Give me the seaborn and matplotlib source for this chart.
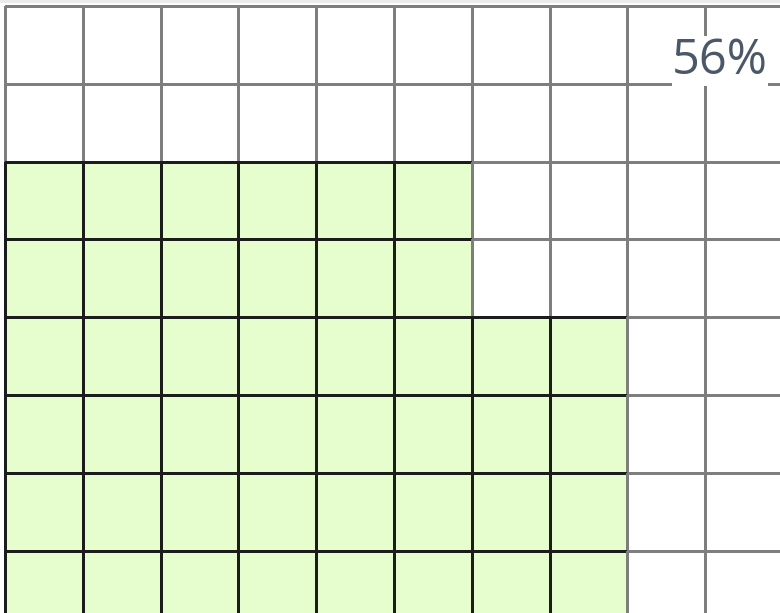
import numpy as np
import matplotlib
matplotlib.use("Agg")
import matplotlib.pyplot as plt
import seaborn as sns
from matplotlib.colors import ListedColormap, to_rgba

# ---- data ----
n_rows = 10
n_cols = 10
column_heights = [8, 8, 8, 8, 8, 8, 6, 6, 0, 0]   # filled cells per column, counted from the bottom
percent_label = "56%"

# ---- build grid ----
row_idx = np.arange(n_rows)[:, None]
heights = np.array(column_heights)[None, :]
filled = row_idx >= (n_rows - heights)
values = filled.astype(float)

sns.set_theme(style="white")
plt.rcParams['font.family'] = ['Open Sans', 'DejaVu Sans']

dpi = 100
fig = plt.figure(figsize=(7.80, 6.13), dpi=dpi)
ax = fig.add_axes([0, 0, 1, 1])

lw = 2.5 * 72 / dpi
sns.heatmap(values, cmap=ListedColormap(['white', '#e6fdcd']), vmin=0, vmax=1, cbar=False,
            linewidths=lw, linecolor='#808080', ax=ax, xticklabels=False, yticklabels=False)
mesh = ax.collections[-1]
edge_cols = np.array([to_rgba('#1c1c1c') if f else to_rgba('#7e7e7e') for f in filled.ravel()])
mesh.set_edgecolor(edge_cols)

cell = 77.8
x0, y0 = 5.0, 6.0
W, H = 780, 613
ax.set_xlim(-x0 / cell, (W - x0) / cell)
ax.set_ylim((H - y0) / cell, -y0 / cell)
ax.axhspan(-y0 / cell, (-y0 + 3) / cell, color='#ebebeb', zorder=5, lw=0)
for s in ax.spines.values():
    s.set_visible(False)

ax.text((720 - x0) / cell, (74 - y0) / cell, percent_label, ha='center', va='baseline',
        fontsize=35, color='#4b5868', zorder=6,
        bbox=dict(facecolor='white', edgecolor='none', pad=0.3))

fig.savefig("out.png", dpi=dpi)
